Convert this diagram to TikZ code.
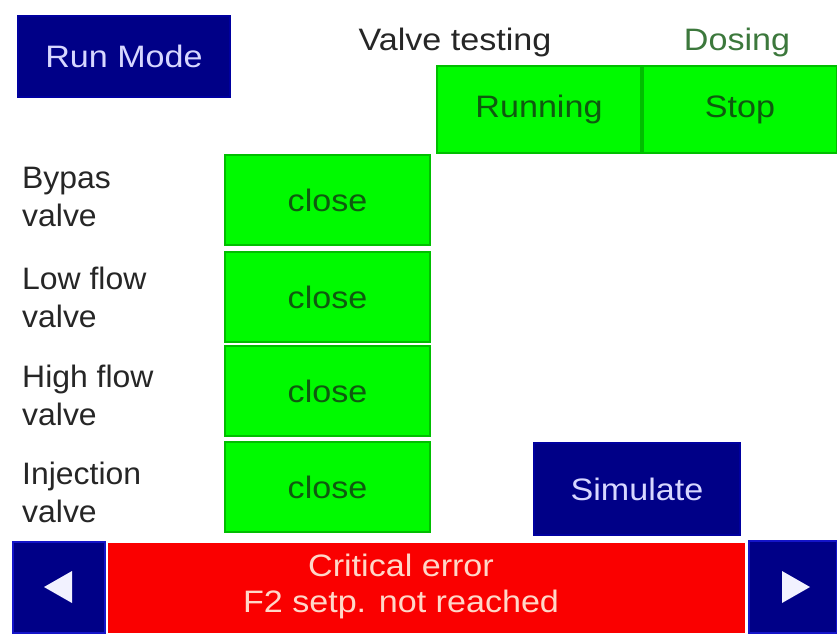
\documentclass[tikz,border=0pt]{standalone}
\usepackage{fontspec}
\setmainfont{Liberation Sans}[FakeStretch=1.1]
\newfontfamily\lblfont{Liberation Sans}[FakeStretch=1.03]
\usetikzlibrary{calc}
\definecolor{navy}{RGB}{0,0,135}
\definecolor{navyedge}{RGB}{20,20,200}
\definecolor{btngreen}{RGB}{0,250,0}
\definecolor{greenedge}{RGB}{0,190,0}
\definecolor{greentext}{RGB}{15,90,15}
\definecolor{dosing}{RGB}{60,120,60}
\definecolor{btntext}{RGB}{215,215,255}
\definecolor{errred}{RGB}{250,0,0}
\definecolor{errtext}{RGB}{255,215,200}
\begin{document}
\begin{tikzpicture}[x=1pt,y=-1pt,
  every node/.style={font=\fontsize{31}{38}\selectfont, inner sep=0pt},
  navybtn/.style={fill=navy, draw=navy!80!blue, line width=1.5pt, text=btntext},
  greenbtn/.style={fill=btngreen, draw=greenedge, line width=1.5pt, text=greentext},
  arrowbtn/.style={fill=navy, draw=navyedge, line width=2pt},
  lbl/.style={anchor=west, align=left, text=black!85, font=\lblfont\fontsize{31}{38}\selectfont}]
\useasboundingbox (0,0) rectangle (837,635);
\fill[white] (0,0) rectangle (837,635);
% Run Mode
\node[navybtn, minimum width=212pt, minimum height=81pt] (run) at (124,56.5) {Run Mode};
% headers
\node[text=black!85] (vt) at (455,42) {Valve testing};
\node[text=dosing] (dos) at (737,42) {Dosing};
% Running / Stop
\node[greenbtn, minimum width=204pt, minimum height=87pt] (running) at (539,109.5) {Running};
\node[greenbtn, minimum width=194pt, minimum height=87pt] (stop) at (740,109.5) {Stop};
% valve labels
\node[lbl] (l1) at (22,197) {Bypas\\valve};
\node[lbl] (l2) at (22,297) {Low flow\\valve};
\node[lbl] (l3) at (22,395) {High flow\\valve};
\node[lbl] (l4) at (22,492) {Injection\\valve};
% close buttons
\node[greenbtn, minimum width=205pt, minimum height=90pt] (c1) at (327.5,200) {close};
\node[greenbtn, minimum width=205pt, minimum height=90pt] (c2) at (327.5,297) {close};
\node[greenbtn, minimum width=205pt, minimum height=90pt] (c3) at (327.5,391) {close};
\node[greenbtn, minimum width=205pt, minimum height=90pt] (c4) at (327.5,487) {close};
% Simulate
\node[navybtn, minimum width=206pt, minimum height=92pt] (sim) at (637,489) {Simulate};
% bottom bar
\node[fill=errred, minimum width=637pt, minimum height=90pt] (err) at (426.5,588) {};
\node[text=errtext, align=center] (errtxt) at (401,586) {Critical error\\[-2pt]F2 setp. not reached};
\node[arrowbtn, minimum width=92pt, minimum height=91pt] (left) at (59,587) {};
\node[arrowbtn, minimum width=88pt, minimum height=92pt] (right) at (793,587) {};
\fill[white!95!blue] ($(left.center)+(-15,0)$) -- ++(28,-16) -- ++(0,32) -- cycle;
\fill[white!95!blue] ($(right.center)+(17,0)$) -- ++(-28,-16) -- ++(0,32) -- cycle;
\end{tikzpicture}
\end{document}
